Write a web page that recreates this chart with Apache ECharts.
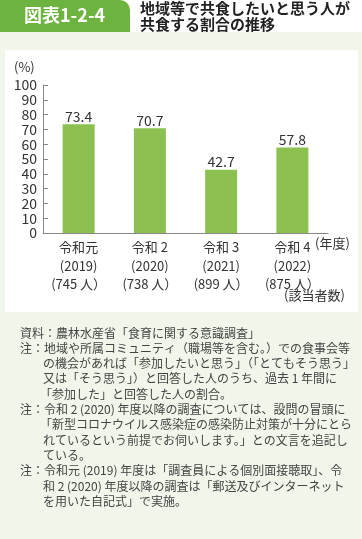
<!DOCTYPE html>
<html><head><meta charset="utf-8">
<script src="https://cdn.jsdelivr.net/npm/echarts@6/dist/echarts.min.js"></script>
<style>html,body{margin:0;padding:0;background:#fff;}#c{width:362px;height:539px;}</style>
</head><body><div id="c"></div>
<script>
const categories = ['令和元', '令和 2', '令和 3', '令和 4'];
const years = ['(2019)', '(2020)', '(2021)', '(2022)'];
const counts = ['(745 人）', '(738 人）', '(899 人）', '(875 人）'];
const values = [73.4, 70.7, 42.7, 57.8];
const yTicks = [0, 10, 20, 30, 40, 50, 60, 70, 80, 90, 100];
const titleLines = ['地域等で共食したいと思う人が', '共食する割合の推移'];
const noteLines = [
  ['資料：農林水産省「食育に関する意識調査」', 20],
  ['注：地域や所属コミュニティ（職場等を含む。）での食事会等', 20],
  ['の機会があれば「参加したいと思う」（「とてもそう思う」', 43],
  ['又は「そう思う」）と回答した人のうち、過去 1 年間に', 43],
  ['「参加した」と回答した人の割合。', 40],
  ['注：令和 2 (2020) 年度以降の調査については、設問の冒頭に', 20],
  ['「新型コロナウイルス感染症の感染防止対策が十分にとら', 40],
  ['れているという前提でお伺いします。」との文言を追記し', 43],
  ['ている。', 43],
  ['注：令和元 (2019) 年度は「調査員による個別面接聴取」、令', 20],
  ['和 2 (2020) 年度以降の調査は「郵送及びインターネット', 43],
  ['を用いた自記式」で実施。', 43]
];
const FONT = '"Noto Sans CJK JP", "Noto Sans", sans-serif';
const chart = echarts.init(document.getElementById('c'), null, {renderer: 'canvas'});
const graphics = [
  {type: 'rect', z: -10, silent: true, shape: {x: 0, y: 32, width: 362, height: 507}, style: {fill: '#f1f6ea'}},
  {type: 'rect', z: -9, silent: true, shape: {x: 5, y: 50, width: 353, height: 262}, style: {fill: '#ffffff'}},
  {type: 'rect', z: -8, silent: true, shape: {x: 0, y: 0, width: 130, height: 32, r: [0, 10, 0, 0]}, style: {fill: '#6db33f'}},
  {type: 'text', left: 24, top: 6, style: {text: '図表1-2-4', fill: '#fff', font: 'bold 18px ' + FONT}},
  {type: 'text', left: 140, top: 1, style: {text: titleLines[0], fill: '#222', font: 'bold 15px ' + FONT}},
  {type: 'text', left: 140, top: 17, style: {text: titleLines[1], fill: '#222', font: 'bold 15px ' + FONT}},
  {type: 'text', left: 14, top: 61, style: {text: '(%)', fill: '#333', font: '13px ' + FONT}},
  {type: 'text', left: 315, top: 237, style: {text: '(年度)', fill: '#333', font: '13px ' + FONT}},
  {type: 'text', left: 284, top: 289, style: {text: '(該当者数)', fill: '#333', font: '13px ' + FONT}}
];
noteLines.forEach((l, i) => {
  graphics.push({type: 'text', left: l[1], top: 327 + i * 15.3, style: {text: l[0], fill: '#444', font: '12px ' + FONT}});
});
chart.setOption({
  animation: false,
  textStyle: {fontFamily: FONT},
  grid: {left: 43, right: 34, top: 85, bottom: 306},
  xAxis: {
    type: 'category',
    data: categories,
    axisLine: {lineStyle: {color: '#888', width: 1}},
    axisTick: {show: false},
    axisLabel: {
      color: '#333', fontSize: 13, lineHeight: 18.5, margin: 5, interval: 0,
      formatter: (v, i) => v + '\n' + years[i] + '\n' + counts[i]
    }
  },
  yAxis: {
    type: 'value', min: 0, max: 100, interval: 10,
    axisLine: {show: true, lineStyle: {color: '#888'}},
    axisTick: {show: true, inside: true, length: 5, lineStyle: {color: '#888'}},
    splitLine: {show: false},
    axisLabel: {color: '#333', fontSize: 14, margin: 6,
      formatter: v => yTicks.includes(v) ? String(v) : ''}
  },
  series: [{
    type: 'bar', data: values, barWidth: 32,
    itemStyle: {color: '#8cc152'},
    label: {show: true, position: 'top', distance: 1, color: '#333', fontSize: 14,
      formatter: p => p.value.toFixed(1)}
  }],
  graphic: graphics
});
</script></body></html>
